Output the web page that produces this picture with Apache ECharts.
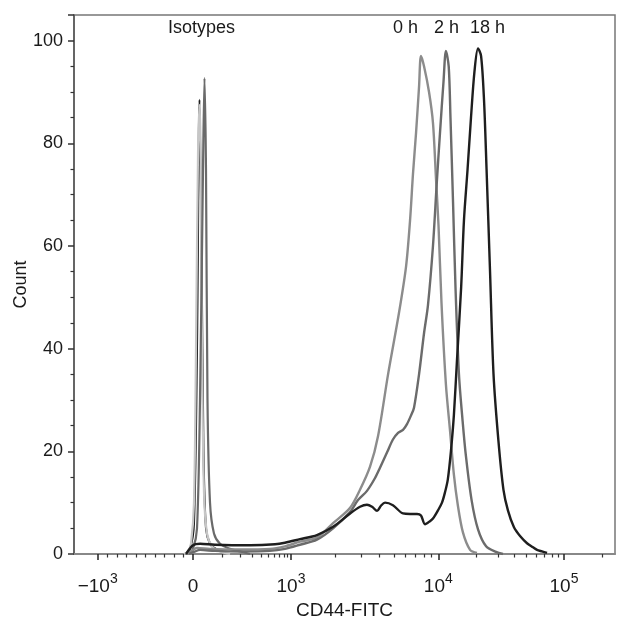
<!DOCTYPE html>
<html>
<head>
<meta charset="utf-8">
<title>CD44-FITC histogram</title>
<script src="https://cdn.jsdelivr.net/npm/echarts@6/dist/echarts.min.js"></script>
<style>
  html, body { margin: 0; padding: 0; background: #fff; }
  #chart { width: 618px; height: 624px; }
</style>
</head>
<body>
<div id="chart"></div>
<script>
// intensity (CD44-FITC) and count for each histogram
const iso1X = [-94, -52, -21, 3, 9.2, 15.4, 20.0, 23.2, 27.9, 34.3, 44.2, 61.5, 92.4, 139];
const iso1Y = [0, 0.5, 2, 10, 40, 78, 87.5, 80, 40, 12, 4, 1.5, 0.5, 0];

const iso2X = [-84, -31, 3.1, 12.3, 20.0, 26.3, 32.7, 40.8, 54.4, 76.3, 114];
const iso2Y = [0, 1, 6, 40, 88.5, 60, 20, 5, 2, 1, 0.3];

const iso3X = [-52, 0, 12.3, 21.6, 31.1, 35.9, 40.8, 45.8, 54.4, 68.7, 92.4, 139, 200, 277];
const iso3Y = [0, 1, 5, 30, 75, 92.7, 75, 30, 10, 4, 2, 1, 0.5, 0];

const h0X = [-52, -10, 12, 54, 200, 520, 830, 1150, 1500, 1930, 2520, 2940, 3440, 3900, 4560, 5410,
  6040, 6430, 6730, 7060, 7400, 7630, 8000, 8650, 9200, 9650, 10040, 10600, 11500, 12400, 13300,
  14300, 15700, 17900, 20300];
const h0Y = [0, 0.6, 1.2, 1.0, 0.9, 1.0, 1.5, 2.4, 3.2, 6.0, 9.0, 12.5, 17, 23, 35, 47,
  56, 65, 74, 82, 91, 97, 95, 90, 84, 73, 64, 49, 33, 24, 15.5,
  9.5, 4.2, 0.8, 0.2];

const h2X = [-42, 3, 22, 72, 200, 520, 830, 1150, 1500, 1930, 2520, 2850, 3280, 3720, 4020, 4490,
  4920, 5330, 5760, 6130, 6530, 6840, 7400, 8000, 8510, 9200, 9740, 10300, 11000, 11500, 12100,
  12500, 13100, 13700, 14600, 15600, 16600, 18400, 20700, 24000, 28800, 32700];
const h2Y = [0, 0.4, 0.8, 0.6, 0.5, 0.6, 1.0, 1.8, 2.8, 5.0, 8.2, 10.5, 12.3, 14.8, 16.8, 19.8,
  22.3, 23.6, 24.2, 25.3, 27, 28.5, 35, 43, 48.5, 60, 71.8, 81.8, 92, 98, 95,
  85, 68.5, 52, 35, 26, 19, 10.5, 4.8, 1.5, 0.4, 0];

const h18X = [-73, 0, 22, 72, 280, 610, 830, 1150, 1500, 1930, 2520, 2940, 3280, 3550, 3840, 4080,
  4350, 4920, 5760, 6430, 7170, 7630, 8120, 8780, 9200, 9950, 10700, 11300, 11900, 12600, 13300,
  14100, 15200, 16000, 17100, 18200, 19400, 20700, 21900, 23100, 24200, 25800, 27500, 30100,
  33000, 35800, 40000, 44700, 50800, 56700, 61000, 66800, 73300];
const h18Y = [0, 1.7, 2.0, 1.8, 1.7, 1.9, 2.2, 2.9, 3.7, 5.3, 7.9, 9.2, 9.6, 9.2, 8.4, 9.4,
  10, 9.5, 7.9, 7.8, 7.8, 7.5, 5.8, 6.4, 6.9, 8.5, 10, 12, 14.5, 20, 27,
  38, 52, 65, 75, 85, 94, 98.5, 97, 88.5, 75, 55, 35, 22,
  12.5, 8.5, 5.2, 3.5, 2.1, 1.3, 0.8, 0.5, 0.2];

const majorTicks = [-1000, 0, 1e3, 1e4, 1e5];
const majorLabels = ['{m|\u2212}{b|10}{s|3}', '{b|0}', '{b|10}{s|3}', '{b|10}{s|4}', '{b|10}{s|5}'];
const minorTicks = [-900, -800, -700, -600, -500, -400, -300, -200, -100,
  100, 200, 300, 400, 500, 600, 700, 800, 900,
  2000, 3000, 4000, 5000, 6000, 7000, 8000, 9000,
  20000, 30000, 40000, 50000, 60000, 70000, 80000, 90000, 200000];

// biexponential-like display scale
function biex(v) {
  if (v < 0) return v * 0.000953;
  if (v <= 1000) return 0.98 * Math.asinh(v / 100) / Math.asinh(10);
  if (v <= 1e4) return 0.98 + 1.473 * (Math.log10(v) - 3);
  return 2.453 + 1.257 * (Math.log10(v) - 4);
}

const toPoints = (xs, ys) => xs.map((x, i) => [biex(x), ys[i]]);

const FONT = '"Liberation Sans", Arial, Helvetica, sans-serif';
const xMin = -1.19;
const xMax = 4.22;

function line(name, xs, ys, color, width) {
  return {
    name,
    type: 'line',
    data: toPoints(xs, ys),
    showSymbol: false,
    symbol: 'none',
    smooth: 0.3,
    lineStyle: { color, width, join: 'round' },
    silent: true,
    animation: false,
  };
}

const chart = echarts.init(document.getElementById('chart'), null, { renderer: 'canvas' });
chart.setOption({
  backgroundColor: '#fff',
  animation: false,
  grid: {
    left: 74, right: 3, top: 15, bottom: 70,
    containLabel: false,
    outerBoundsMode: 'none',
    show: true, borderColor: '#777', borderWidth: 1.5,
  },
  xAxis: [
    {
      type: 'value',
      min: xMin,
      max: xMax,
      position: 'bottom',
      splitLine: { show: false },
      axisLine: { show: true, onZero: false, lineStyle: { color: '#888', width: 2 } },
      axisTick: {
        show: true, length: 6, inside: false,
        customValues: majorTicks.map(biex),
        lineStyle: { color: '#222', width: 1.5 },
      },
      axisLabel: {
        customValues: majorTicks.map(biex),
        margin: 18,
        color: '#1a1a1a',
        fontFamily: FONT,
        formatter: (val) => {
          let best = 0;
          majorTicks.forEach((t, i) => {
            if (Math.abs(biex(t) - val) < Math.abs(biex(majorTicks[best]) - val)) best = i;
          });
          return majorLabels[best];
        },
        rich: {
          b: { fontSize: 19, fontFamily: FONT, color: '#1a1a1a', verticalAlign: 'bottom', lineHeight: 24 },
          m: { fontSize: 19, fontFamily: FONT, color: '#1a1a1a', verticalAlign: 'bottom', lineHeight: 24 },
          s: { fontSize: 14, fontFamily: FONT, color: '#1a1a1a', verticalAlign: 'top', lineHeight: 14 },
        },
      },
      name: 'CD44-FITC',
      nameLocation: 'middle',
      nameGap: 47,
      nameMoveOverlap: false,
      nameTextStyle: { fontSize: 19, fontFamily: FONT, color: '#1a1a1a' },
    },
    {
      type: 'value',
      min: xMin,
      max: xMax,
      position: 'bottom',
      splitLine: { show: false },
      axisLine: { show: false, onZero: false },
      axisLabel: { show: false },
      axisTick: {
        show: true, length: 3.5, inside: false,
        customValues: minorTicks.map(biex),
        lineStyle: { color: '#333', width: 1.2 },
      },
    },
  ],
  yAxis: {
    type: 'value',
    min: 0,
    max: 105,
    interval: 20,
    splitLine: { show: false },
    axisLine: { show: true, onZero: false, lineStyle: { color: '#555', width: 1.5 } },
    axisTick: { show: true, length: 6, lineStyle: { color: '#333', width: 1.5 } },
    minorTick: { show: true, splitNumber: 4, length: 3.5, lineStyle: { color: '#333', width: 1.2 } },
    axisLabel: {
      fontSize: 18,
      fontFamily: FONT,
      color: '#1a1a1a',
      margin: 11,
      showMaxLabel: false,
      formatter: (v) => (v > 100 ? '' : String(v)),
    },
    name: 'Count',
    nameLocation: 'middle',
    nameGap: 44,
    nameMoveOverlap: false,
    nameRotate: 90,
    nameTextStyle: { fontSize: 18, fontFamily: FONT, color: '#1a1a1a' },
  },
  graphic: [
    { type: 'text', left: 168, top: 19, style: { text: 'Isotypes', font: '18px ' + FONT, fill: '#1a1a1a' } },
    { type: 'text', left: 393, top: 19, style: { text: '0 h', font: '18px ' + FONT, fill: '#1a1a1a' } },
    { type: 'text', left: 434, top: 19, style: { text: '2 h', font: '18px ' + FONT, fill: '#1a1a1a' } },
    { type: 'text', left: 470, top: 19, style: { text: '18 h', font: '18px ' + FONT, fill: '#1a1a1a' } },
  ],
  series: [
    line('Isotype 18 h', iso2X, iso2Y, '#1c1c1c', 2),
    line('Isotype 0 h', iso1X, iso1Y, '#c6c6c6', 2.2),
    line('Isotype 2 h', iso3X, iso3Y, '#6a6a6a', 2.2),
    line('0 h', h0X, h0Y, '#8c8c8c', 2.4),
    line('2 h', h2X, h2Y, '#6b6b6b', 2.4),
    line('18 h', h18X, h18Y, '#1e1e1e', 2.4),
  ],
});
</script>
</body>
</html>
